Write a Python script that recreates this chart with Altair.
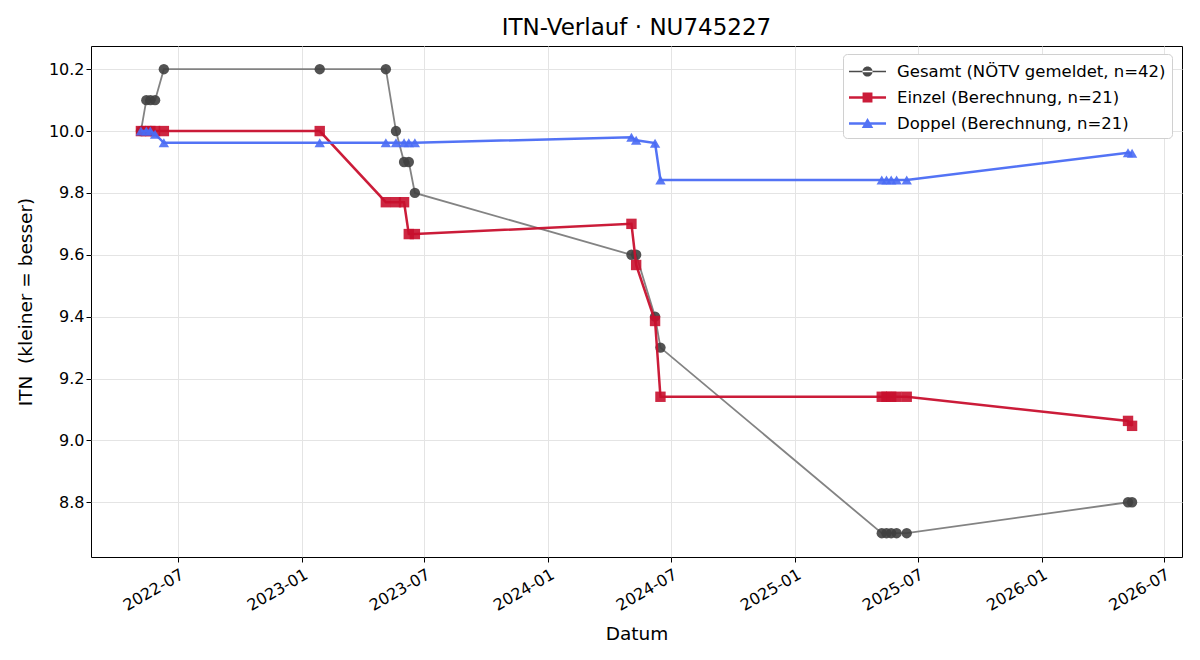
import altair as alt
import pandas as pd

# Meldedaten (ein Eintrag je Stichtag)
daten = [
    "2022-05-07", "2022-05-15", "2022-05-21", "2022-05-28", "2022-06-10",
    "2023-01-27",
    "2023-05-05", "2023-05-20", "2023-06-01", "2023-06-08", "2023-06-17",
    "2024-05-03", "2024-05-10", "2024-06-07", "2024-06-15",
    "2025-05-09", "2025-05-16", "2025-05-23", "2025-05-31", "2025-06-15",
    "2026-05-09", "2026-05-15",
]
gesamt = [10.0, 10.1, 10.1, 10.1, 10.2,
          10.2,
          10.2, 10.0, 9.9, 9.9, 9.8,
          9.6, 9.6, 9.4, 9.3,
          8.7, 8.7, 8.7, 8.7, 8.7,
          8.8, 8.8]
einzel = [10.0, 10.0, 10.0, 10.0, 10.0,
          10.0,
          9.77, 9.77, 9.77, 9.667, 9.667,
          9.70, 9.567, 9.386, 9.141,
          9.141, 9.141, 9.141, 9.141, 9.141,
          9.063, 9.047]
doppel = [10.0, 10.0, 10.0, 9.99, 9.962,
          9.962,
          9.962, 9.962, 9.962, 9.962, 9.962,
          9.980, 9.970, 9.961, 9.842,
          9.842, 9.842, 9.842, 9.842, 9.842,
          9.930, 9.928]

serien = ["Gesamt (NÖTV gemeldet, n=42)", "Einzel (Berechnung, n=21)", "Doppel (Berechnung, n=21)"]
werte = [gesamt, einzel, doppel]
linienfarben = ["#7c7c7c", "#c8102e", "#4a6cf4"]
punktfarben = ["#404040", "#c8102e", "#4a6cf4"]
formen = ["circle", "square", "triangle-up"]
linienbreiten = [1.8, 2.5, 2.5]

x_ticks = ["2022-07", "2023-01", "2023-07", "2024-01", "2024-07", "2025-01", "2025-07", "2026-01", "2026-07"]
y_ticks = [8.8, 9.0, 9.2, 9.4, 9.6, 9.8, 10.0, 10.2]

FONT = "DejaVu Sans"

rows = []
for s, vals in zip(serien, werte):
    for d, v in zip(daten, vals):
        rows.append({"datum": d, "serie": s, "itn": v})
df = pd.DataFrame(rows)


def dt(s):
    y, m = s.split("-")[:2]
    return alt.DateTime(year=int(y), month=int(m), date=1)


x_enc = alt.X(
    "datum:T",
    title="Datum",
    scale=alt.Scale(domain=[alt.DateTime(year=2022, month=2, date=22),
                            alt.DateTime(year=2026, month=7, date=28)]),
    axis=alt.Axis(values=[dt(t) for t in x_ticks], format="%Y-%m", labelAngle=-30,
                  labelAlign="right", labelBaseline="top", labelPadding=4,
                  titlePadding=11),
)
y_enc = alt.Y(
    "itn:Q",
    title="ITN\u00a0 (kleiner = besser)",
    scale=alt.Scale(domain=[8.623, 10.275], zero=False, nice=False),
    axis=alt.Axis(values=y_ticks, format=".1f", titlePadding=13),
)

layers = []
for i, s in enumerate(serien):
    base = alt.Chart(df).transform_filter(alt.datum.serie == s)
    layers.append(base.mark_line(color=linienfarben[i], strokeWidth=linienbreiten[i],
                                 opacity=0.95).encode(x=x_enc, y=y_enc))
    layers.append(base.mark_point(filled=True, shape=formen[i], size=108,
                                  color=punktfarben[i], opacity=0.9).encode(x=x_enc, y=y_enc))

# Legendensymbole: Linie mit Marker (Einheitskoordinaten, skaliert mit sqrt(size)/2)
cx = 0.61
x0, x1 = -1.0, 2.22


def bar(h):
    return f"M{x0},{-h} L{x1},{-h} L{x1},{h} L{x0},{h} Z "


r = 0.44
circle = f"M{cx - r},0 A{r},{r} 0 1,0 {cx + r},0 A{r},{r} 0 1,0 {cx - r},0 Z"
q = 0.43
square = f"M{cx - q},{-q} L{cx + q},{-q} L{cx + q},{q} L{cx - q},{q} Z"
tri = f"M{cx},-0.47 L{cx + 0.5},0.4 L{cx - 0.5},0.4 Z"
legend_paths = [bar(0.07) + circle, bar(0.11) + square, bar(0.11) + tri]

leg = alt.Legend(
    title=None, orient="none", legendX=752, legendY=8, padding=6,
    fillColor="white", strokeColor="#d0d0d0", cornerRadius=4,
    labelFont=FONT, labelFontSize=16.5, labelColor="black", labelLimit=500,
    symbolSize=529, labelOffset=25, rowPadding=6, symbolOpacity=0.95,
    symbolStrokeWidth=0,
)
legend_layer = alt.Chart(pd.DataFrame({"serie": serien})).mark_point(
    filled=True, opacity=0
).encode(
    color=alt.Color("serie:N", scale=alt.Scale(domain=serien, range=punktfarben), legend=leg),
    shape=alt.Shape("serie:N", scale=alt.Scale(domain=serien, range=legend_paths), legend=leg),
)

chart = alt.layer(*layers, legend_layer).properties(
    width=1091, height=511,
    background="white",
    autosize=alt.AutoSizeParams(type="none"),
    padding={"left": 91, "top": 46, "right": 18, "bottom": 103},
    title=alt.Title("ITN-Verlauf · NU745227", font=FONT, fontSize=23, fontWeight="normal",
                    color="black", offset=10, baseline="alphabetic", dy=22),
).configure_view(
    stroke="black", strokeWidth=1
).configure_axis(
    labelFont=FONT, labelFontSize=16, labelColor="black",
    titleFont=FONT, titleFontSize=18.5, titleFontWeight="normal", titleColor="black",
    tickColor="black", tickSize=5, tickWidth=1, domain=False,
    grid=True, gridColor="#e4e4e4", gridWidth=1,
)

chart.save("out.html", embed_options={"renderer": "svg", "actions": False})
